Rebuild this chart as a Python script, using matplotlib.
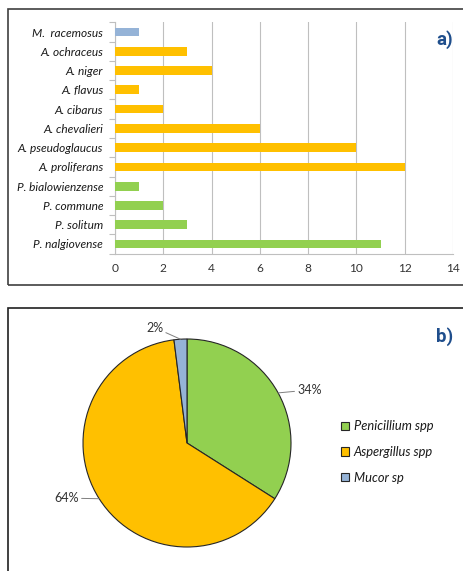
import matplotlib.pyplot as plt
from matplotlib.patches import Rectangle, Patch
import numpy as np

plt.rcParams['font.family'] = ['Lato', 'DejaVu Sans']

# bar chart data (top to bottom as in the figure)
species = ['M.  racemosus', 'A. ochraceus', 'A. niger', 'A. flavus', 'A. cibarus',
           'A. chevalieri', 'A. pseudoglaucus', 'A. proliferans', 'P. bialowienzense',
           'P. commune', 'P. solitum', 'P. nalgiovense']
counts = [1, 3, 4, 1, 2, 6, 10, 12, 1, 2, 3, 11]
genus = ['Mucor', 'Aspergillus', 'Aspergillus', 'Aspergillus', 'Aspergillus',
         'Aspergillus', 'Aspergillus', 'Aspergillus', 'Penicillium',
         'Penicillium', 'Penicillium', 'Penicillium']

# pie chart data
pie_labels = ['Penicillium spp', 'Aspergillus spp', 'Mucor sp']
pie_share = [34, 64, 2]

colors = {'Penicillium': '#92D050', 'Aspergillus': '#FFC000', 'Mucor': '#95B3D7'}
pie_colors = [colors['Penicillium'], colors['Aspergillus'], colors['Mucor']]
grey = '#BFBFBF'
blue_lbl = '#1F4E8C'

W, H = 464, 571
fig = plt.figure(figsize=(W / 100, H / 100), dpi=100)


def px(x0, y0, x1, y1):
    # pixel box (top-left origin) -> figure fraction rect
    return [x0 / W, 1 - y1 / H, (x1 - x0) / W, (y1 - y0) / H]


# panel frames
fig.patches.append(Rectangle((8 / W, 1 - 285 / H), 470 / W, 276 / H, transform=fig.transFigure,
                             fill=False, edgecolor='#404040', lw=1.2))
fig.patches.append(Rectangle((8 / W, -0.1), 470 / W, 1 - 308 / H + 0.1, transform=fig.transFigure,
                             fill=False, edgecolor='#202020', lw=1.2))

# ---- a) bar chart
ax = fig.add_axes(px(115, 22.4, 453, 253.6))
y = np.arange(len(species))
ax.barh(y, counts, height=0.45, color=[colors[g] for g in genus], zorder=3)
ax.set_ylim(len(species) - 0.5, -0.5)
ax.set_xlim(0, 14)
ax.set_xticks(range(0, 15, 2))
ax.set_yticks(y)
ax.set_yticklabels(species, style='italic', fontsize=8.6, color='#1a1a1a')
ax.set_yticks(np.arange(-0.5, len(species), 1), minor=True)
ax.tick_params(axis='y', which='major', length=0, pad=8.5)
ax.tick_params(axis='y', which='minor', length=4, color=grey, width=0.8)
ax.tick_params(axis='x', length=0, labelsize=8.6, labelcolor='#333333', pad=7)
ax.grid(axis='x', color=grey, lw=0.8, zorder=0)
for s in ['top', 'right']:
    ax.spines[s].set_visible(False)
for s in ['left', 'bottom']:
    ax.spines[s].set_color(grey)
    ax.spines[s].set_linewidth(0.8)

fig.text(436 / W, 1 - 40 / H, 'a)', fontsize=13.5, fontweight='bold', color=blue_lbl,
         family='Roboto', va='center')
fig.text(436 / W, 1 - 337 / H, 'b)', fontsize=13.5, fontweight='bold', color=blue_lbl,
         family='Roboto', va='center')

# ---- b) pie chart
r = 104
cx, cy = 187, 443
pa = fig.add_axes(px(cx - 1.6 * r, cy - 1.6 * r, cx + 1.6 * r, cy + 1.6 * r))
wedges, _ = pa.pie(pie_share, colors=pie_colors, startangle=90, counterclock=False,
                   radius=1, wedgeprops=dict(edgecolor='#262626', linewidth=0.8))
pa.set_xlim(-1.6, 1.6)
pa.set_ylim(-1.6, 1.6)
pa.set_aspect('equal')
pa.axis('off')

label_pos = [(1.06, 0.51, 'left'), (-1.04, -0.53, 'right'), (-0.23, 1.11, 'right')]
for w, val, (tx, ty, ha) in zip(wedges, pie_share, label_pos):
    ang = np.deg2rad((w.theta1 + w.theta2) / 2)
    ex, ey = np.cos(ang), np.sin(ang)
    pa.annotate(f'{val}%', xy=(ex, ey), xytext=(tx, ty), ha=ha, va='center',
                fontsize=9, color='#333333',
                arrowprops=dict(arrowstyle='-', color='#7F7F7F', lw=0.7,
                                shrinkA=0, shrinkB=0))

handles = [Patch(facecolor=c, edgecolor='#262626', lw=0.8) for c in pie_colors]
leg = fig.legend(handles, pie_labels, loc='center left',
                 bbox_to_anchor=(329 / W, 1 - 452 / H), frameon=False,
                 prop=dict(size=9.3, style='italic'), handlelength=0.65, handleheight=0.65,
                 handletextpad=0.35, labelspacing=1.05)
for t in leg.get_texts():
    t.set_color('#1a1a1a')

fig.savefig('out.png', dpi=100)
